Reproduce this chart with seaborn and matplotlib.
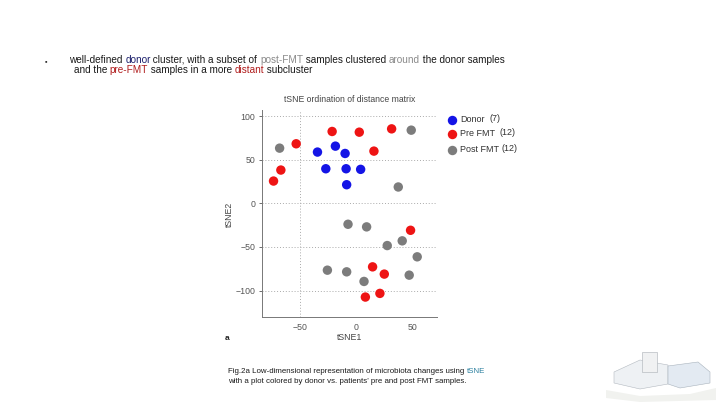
import matplotlib
matplotlib.use("Agg")
import matplotlib.pyplot as plt
from matplotlib.patches import Polygon, Rectangle
import seaborn as sns
import pandas as pd

# ---- data ----
groups = ["Donor", "Pre FMT", "Post FMT"]
counts = [7, 12, 12]

donor_x = [-34.2, -18.3, -9.7, -26.8, -8.8, 4.1, -8.3]
donor_y = [58.7, 65.5, 57.1, 39.6, 39.6, 38.9, 21.3]

pre_x = [-53.1, -21.2, 2.9, 31.6, 15.9, -66.7, -73.2, 48.4, 14.7, 25.1, 21.2, 8.3]
pre_y = [68.2, 82.3, 81.5, 85.3, 59.8, 38.1, 25.5, -30.9, -72.8, -81.1, -103.2, -107.4]

post_x = [-67.8, 49.0, 37.5, -7.1, 9.4, 27.7, 41.0, 54.3, -25.4, -8.3, 7.1, 47.2]
post_y = [63.2, 83.8, 18.7, -24.0, -27.0, -48.4, -43.0, -61.3, -76.6, -78.5, -89.5, -82.3]

x_ticks = [-50, 0, 50]
y_ticks = [-100, -50, 0, 50, 100]

colors = ["#1414e6", "#ee1414", "#7c7c7c"]

df = pd.concat([
    pd.DataFrame({"tSNE1": donor_x, "tSNE2": donor_y, "group": groups[0]}),
    pd.DataFrame({"tSNE1": pre_x, "tSNE2": pre_y, "group": groups[1]}),
    pd.DataFrame({"tSNE1": post_x, "tSNE2": post_y, "group": groups[2]}),
], ignore_index=True)

sns.set_theme(style="white")
plt.rcParams["font.family"] = ["Liberation Sans", "DejaVu Sans"]

W, H = 720, 405
fig = plt.figure(figsize=(7.2, 4.05), dpi=100)
fig.patch.set_facecolor("white")
renderer = fig.canvas.get_renderer()

def fx(px):
    return px / W

def fy(py):
    return 1 - py / H

ax = fig.add_axes([fx(261.7), fy(316.7), fx(436.7) - fx(261.7), fy(110) - fy(316.7)])
sns.scatterplot(data=df, x="tSNE1", y="tSNE2", hue="group", hue_order=groups,
                palette=colors, s=46, linewidth=0, edgecolor="none", ax=ax,
                legend=False, zorder=3)
ax.set_xlim(-83.7, 71.6)
ax.set_ylim(-129.9, 106.9)
ax.set_xticks(x_ticks)
ax.set_yticks(y_ticks)
ax.set_xticklabels([str(t).replace("-", "\u2212") for t in x_ticks])
ax.set_yticklabels([str(t).replace("-", "\u2212") for t in y_ticks])
ax.tick_params(axis="both", labelsize=6.3, colors="#555555", length=2.5, width=0.6,
               direction="out", pad=2, left=True, bottom=False)
for s in ["top", "right"]:
    ax.spines[s].set_visible(False)
for s in ["left", "bottom"]:
    ax.spines[s].set_color("#777777")
    ax.spines[s].set_linewidth(0.7)
for yv in y_ticks:
    ax.axhline(yv, color="#aaaaaa", lw=0.7, ls=(0, (1, 2)), zorder=1)
ax.axvline(-50, color="#aaaaaa", lw=0.7, ls=(0, (1, 2)), zorder=1)
ax.set_xlabel("")
ax.set_ylabel("")

fig.text(fx(350), fy(99), "tSNE ordination of distance matrix", ha="center", va="center",
         fontsize=6.2, color="#444444")
fig.text(fx(229), fy(214), "tSNE2", ha="center", va="center", rotation=90,
         fontsize=6.3, color="#444444")
fig.text(fx(350), fy(338), "tSNE1", ha="center", va="center", fontsize=6.3, color="#444444")
fig.text(fx(227), fy(339), "a", ha="center", va="center", fontsize=6,
         fontweight="bold", color="#222222")

# legend
leg_y = [120, 134, 150]
lax = fig.add_axes([0, 0, 1, 1], facecolor="none")
lax.set_xlim(0, W)
lax.set_ylim(H, 0)
lax.axis("off")
for g, c, yy in zip(groups, colors, leg_y):
    lax.scatter([452], [yy], s=46, color=c, linewidth=0)
    lax.text(460, yy, g, ha="left", va="center", fontsize=6.5, color="#333333")
cnt_x = [490, 499, 502]
for n, xx, yy in zip(counts, cnt_x, leg_y):
    lax.text(xx, yy - 1.5, f"({n})", ha="left", va="center", fontsize=6.5, color="#333333")


def text_width_px(s, size):
    t = fig.text(0, 0, s + "|", fontsize=size)
    w1 = t.get_window_extent(renderer).width
    t.remove()
    t = fig.text(0, 0, "|", fontsize=size)
    w2 = t.get_window_extent(renderer).width
    t.remove()
    return w1 - w2


def colored_line(x, y, parts, size):
    prefix = ""
    for s, c in parts:
        off = text_width_px(prefix, size) if prefix else 0.0
        fig.text(fx(x + off), fy(y), s, color=c, fontsize=size, ha="left", va="baseline")
        prefix += s


fig.text(fx(46), fy(63), "\u25aa", fontsize=5, color="#333333", ha="center", va="baseline")
dark = "#1a1a1a"
navy = "#1b1f6b"
grey = "#8a8a8a"
dred = "#b01c1c"
colored_line(69, 63, [("well-defined ", dark), ("donor", navy), (" cluster, with a subset of ", dark),
                      ("post-FMT", grey), (" samples clustered ", dark), ("around", grey),
                      (" the donor samples", dark)], 7.2)
colored_line(73.5, 73, [("and the ", dark), ("pre-FMT", dred), (" samples in a more ", dark),
                        ("distant", dred), (" subcluster", dark)], 7.2)

# caption
colored_line(228, 373, [("Fig.2a Low-dimensional representation of microbiota changes using ", dark),
                        ("tSNE", "#2a7f9e")], 5.65)
fig.text(fx(228), fy(383), "with a plot colored by donor vs. patients\u2019 pre and post FMT samples.",
         fontsize=5.65, color=dark, ha="left", va="baseline")

# small building sketch (decorative)
lax.add_patch(Polygon([[606, 390], [640, 396], [690, 394], [716, 388], [716, 400], [640, 402], [606, 398]],
                      closed=True, facecolor="#f1f2ef", edgecolor="none"))
lax.add_patch(Polygon([[614, 372], [640, 360], [668, 365], [668, 384], [640, 389], [614, 383]],
                      closed=True, facecolor="#eef1f4", edgecolor="#b4bac1", lw=0.4))
lax.add_patch(Rectangle((642, 352), 15, 20, facecolor="#f0f1f2", edgecolor="#a9afb5", lw=0.4))
lax.add_patch(Polygon([[668, 366], [698, 362], [710, 372], [710, 383], [680, 388], [668, 384]],
                      closed=True, facecolor="#e3eaf2", edgecolor="#a9b3bd", lw=0.4))

fig.savefig("out.png", dpi=100, facecolor="white")
